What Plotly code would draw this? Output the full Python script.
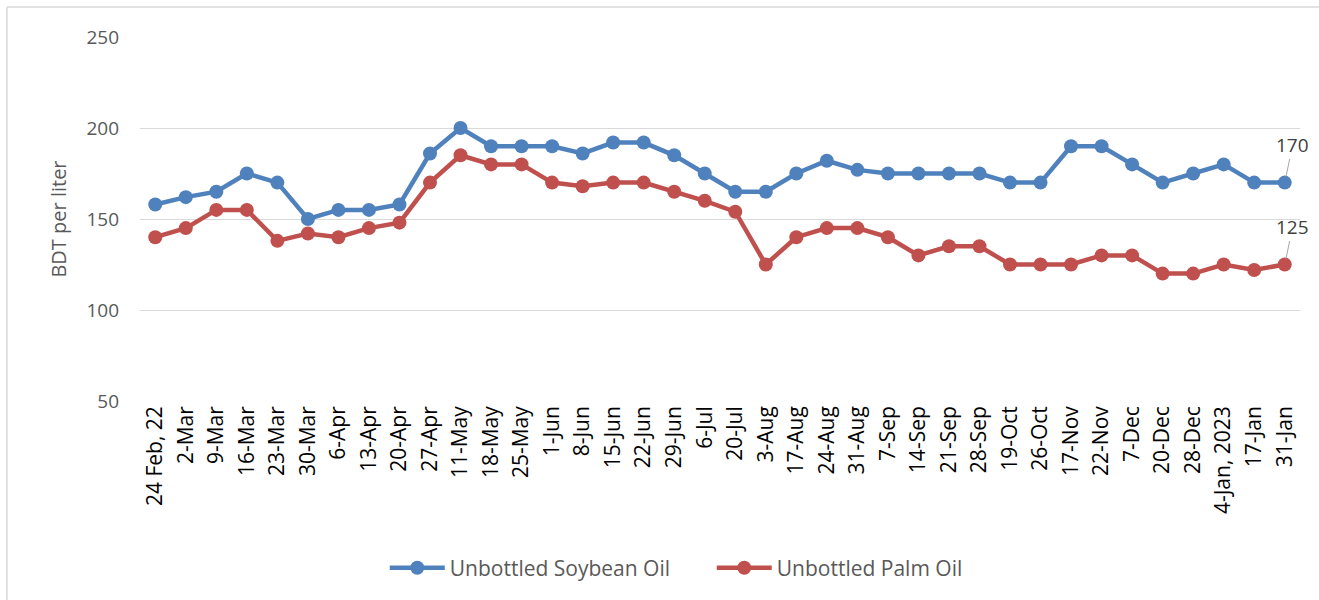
import plotly.graph_objects as go

categories = ["24 Feb, 22", "2-Mar", "9-Mar", "16-Mar", "23-Mar", "30-Mar", "6-Apr", "13-Apr",
              "20-Apr", "27-Apr", "11-May", "18-May", "25-May", "1-Jun", "8-Jun", "15-Jun",
              "22-Jun", "29-Jun", "6-Jul", "20-Jul", "3-Aug", "17-Aug", "24-Aug", "31-Aug",
              "7-Sep", "14-Sep", "21-Sep", "28-Sep", "19-Oct", "26-Oct", "17-Nov", "22-Nov",
              "7-Dec", "20-Dec", "28-Dec", "4-Jan, 2023", "17-Jan", "31-Jan"]

soybean = [158, 162, 165, 175, 170, 150, 155, 155, 158, 186, 200, 190, 190, 190, 186, 192,
           192, 185, 175, 165, 165, 175, 182, 177, 175, 175, 175, 175, 170, 170, 190, 190,
           180, 170, 175, 180, 170, 170]

palm = [140, 145, 155, 155, 138, 142, 140, 145, 148, 170, 185, 180, 180, 170, 168, 170,
        170, 165, 160, 154, 125, 140, 145, 145, 140, 130, 135, 135, 125, 125, 125, 130,
        130, 120, 120, 125, 122, 125]

y_ticks = [50, 100, 150, 200, 250]

BLUE = "#4F81BD"
RED = "#C0504D"
FONT = "Open Sans"

fig = go.Figure()
fig.add_trace(go.Scatter(x=categories, y=soybean, mode="lines+markers", name="Unbottled Soybean Oil",
                         line=dict(color=BLUE, width=4.5), marker=dict(color=BLUE, size=14)))
fig.add_trace(go.Scatter(x=categories, y=palm, mode="lines+markers", name="Unbottled Palm Oil",
                         line=dict(color=RED, width=4.5), marker=dict(color=RED, size=14)))

for series in (soybean, palm):
    fig.add_annotation(x=categories[-1], y=series[-1], text=str(series[-1]),
                       showarrow=True, arrowhead=0, arrowwidth=1, arrowcolor="#A6A6A6",
                       ax=8, ay=-38, standoff=6,
                       font=dict(family=FONT, size=19, color="#404040"))

# chart border (outer frame)
fig.add_shape(type="line", xref="paper", yref="paper", x0=-0.1147, x1=1.03, y0=1.0824, y1=1.0824,
              line=dict(color="#D9D9D9", width=1.5))
fig.add_shape(type="line", xref="paper", yref="paper", x0=-0.1147, x1=-0.1147, y0=1.0824, y1=-0.6,
              line=dict(color="#D9D9D9", width=1.5))

fig.update_layout(
    width=1319, height=600,
    margin=dict(l=140, r=19, t=37, b=199),
    plot_bgcolor="white", paper_bgcolor="white",
    font=dict(family=FONT, color="#595959"),
    showlegend=True,
    legend=dict(orientation="h", x=0.211, xanchor="left", y=-0.459, yanchor="middle",
                itemwidth=55, entrywidth=257, entrywidthmode="pixels",
                font=dict(family=FONT, size=21, color="#595959"),
                bgcolor="rgba(0,0,0,0)"),
    xaxis=dict(type="category", categoryorder="array", categoryarray=categories,
               range=[-0.5, len(categories) - 0.5], tickangle=-90,
               tickfont=dict(family=FONT, size=21, color="black"),
               showgrid=False, showline=False, ticks="", zeroline=False),
    yaxis=dict(range=[50, 250], tickvals=y_ticks, showgrid=True, gridcolor="#D9D9D9", gridwidth=1,
               zeroline=False, showline=False, ticks="", ticklabelstandoff=20,
               tickfont=dict(family=FONT, size=19, color="#595959"),
               title=dict(text="BDT per liter", font=dict(family=FONT, size=20, color="#595959"),
                          standoff=14)),
)

fig.write_html("out.html", config={"displayModeBar": False},
               post_script="document.body.style.margin='0px';")
